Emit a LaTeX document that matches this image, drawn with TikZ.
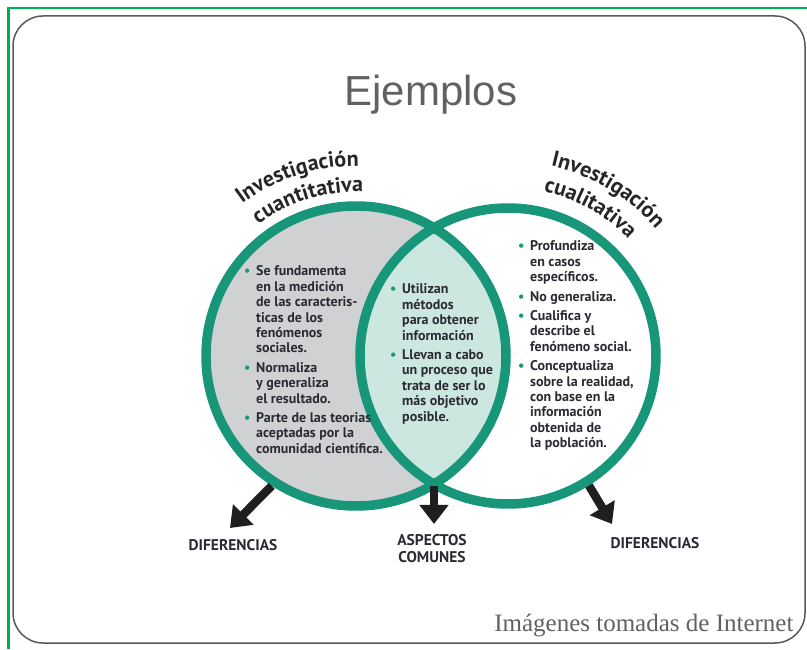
\documentclass[tikz,border=0pt]{standalone}
\usepackage{fontspec}
\setmainfont{Liberation Serif}
\newfontfamily\titulofont{Liberation Sans}
\newfontfamily\textofont{PT Sans}
\usetikzlibrary{positioning,arrows.meta,decorations.text}

\definecolor{vteal}{RGB}{24,150,122}
\definecolor{grisc}{RGB}{208,209,211}
\definecolor{menta}{RGB}{204,231,224}
\definecolor{marco}{RGB}{0,176,80}
\definecolor{tinta}{RGB}{42,42,50}

\newcommand{\pto}{\makebox[12pt][l]{\color{vteal}\textbullet}}
\newcommand{\cabecera}{\textofont\bfseries\fontsize{22}{22}\selectfont}

\tikzset{
  aro/.style={circle, draw=vteal, line width=9.5pt, inner sep=0pt},
  lista/.style={anchor=north west, inner sep=0pt, text=tinta, font=\textofont\bfseries\fontsize{14}{15.4}\selectfont},
  etiqueta/.style={text=tinta, align=center, font=\textofont\bfseries\fontsize{15.5}{17}\selectfont},
  flecha/.style={line width=8.5pt, draw=black!88, -{Triangle[width=28pt,length=19pt]}},
  arco/.style={decorate, decoration={text along path, text align=center, text color=black!85}}
}

\begin{document}
\begin{tikzpicture}[x=1pt, y=1pt]
		\useasboundingbox (0,0) rectangle (807,649);
		% marco verde y tarjeta redondeada
		\draw[marco, line width=2.5pt] (8.5,0) -- (8.5,641) -- (807,641);
		\draw[black!65, line width=1.5pt, rounded corners=30pt] (13,6) rectangle (805,633);

		% titulo
		\node[anchor=base, text=black!62, font=\titulofont\fontsize{42}{42}\selectfont] (titulo) at (431,543) {Ejemplos};

		% rellenos: gris a la izquierda, menta en la interseccion
		\fill[grisc] (356,293) circle (150pt);
		\begin{scope}
			\clip (356,293) circle (150pt);
			\fill[menta] (508,293) circle (148pt);
		\end{scope}

		% los dos circulos
		\node[aro, minimum size=300pt] (cuanti) at (356,293) {};
		\node[aro, minimum size=296pt] (cuali) at (508,293) {};

		% cabeceras sobre los arcos
		\path[arco, decoration={text={|\cabecera|Investigación}}] (356,293) ++(150:190pt) arc[start angle=150, end angle=66, radius=190pt];
		\path[arco, decoration={text={|\cabecera|cuantitativa}}] (356,293) ++(152:164pt) arc[start angle=152, end angle=62, radius=164pt];
		\path[arco, decoration={text={|\cabecera|Investigación}}] (508,293) ++(102:195pt) arc[start angle=102, end angle=16, radius=195pt];
		\path[arco, decoration={text={|\cabecera|cualitativa}}] (508,293) ++(104:168pt) arc[start angle=104, end angle=18, radius=168pt];

		% listas
		\node[lista] (cuantitxt) at (244,384) {\begin{tabular}{@{}l@{}l@{}}
				\pto & Se fundamenta\\
				& en la medición\\
				& de las caracteris-\\
				& ticas de los\\
				& fenómenos\\
				& sociales.\\[4pt]
				\pto & Normaliza\\
				& y generaliza\\
				& el resultado.\\[4pt]
				\pto & Parte de las teorias\\
				& aceptadas por la\\
				& comunidad científica.
			\end{tabular}};
		\node[lista] (comuntxt) at (390,366) {\begin{tabular}{@{}l@{}l@{}}
				\pto & Utilizan\\
				& métodos\\
				& para obtener\\
				& información\\[4pt]
				\pto & Llevan a cabo\\
				& un proceso que\\
				& trata de ser lo\\
				& más objetivo\\
				& posible.
			\end{tabular}};
		\node[lista] (cualitxt) at (518,409) {\begin{tabular}{@{}l@{}l@{}}
				\pto & Profundiza\\
				& en casos\\
				& específicos.\\[4pt]
				\pto & No generaliza.\\[4pt]
				\pto & Cualifica y\\
				& describe el\\
				& fenómeno social.\\[4pt]
				\pto & Conceptualiza\\
				& sobre la realidad,\\
				& con base en la\\
				& información\\
				& obtenida de\\
				& la población.
			\end{tabular}};

		% etiquetas de abajo
		\node[etiqueta] (difizq) at (233,104) {DIFERENCIAS};
		\node[etiqueta] (comunes) at (432,100) {ASPECTOS\\COMUNES};
		\node[etiqueta] (difder) at (655,106) {DIFERENCIAS};

		% flechas
		\coordinate (cruce) at (434,163);
		\coordinate (puntaizq) at (230,121);
		\coordinate (puntacen) at (434,125);
		\coordinate (puntader) at (612,125);
		\foreach \desde/\hasta in {cuanti.237/puntaizq, cruce/puntacen, cuali.-58/puntader} {
				\draw[flecha] (\desde) -- (\hasta);
			}

		% pie
		\node[anchor=base east, text=black!62, font=\fontsize{25}{25}\selectfont] (pie) at (797,18) {Imágenes tomadas de Internet};
	\end{tikzpicture}
\end{document}
